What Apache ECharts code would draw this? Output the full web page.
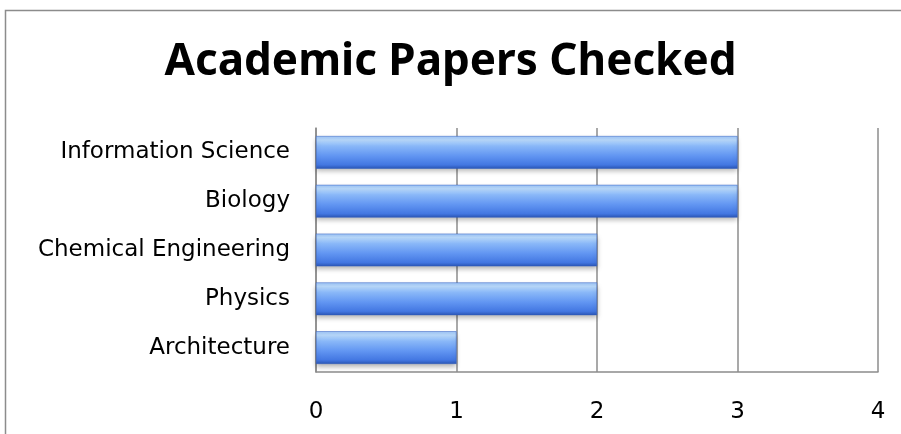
<!DOCTYPE html>
<html><head><meta charset="utf-8">
<script src="https://cdn.jsdelivr.net/npm/echarts@6/dist/echarts.min.js"></script>
<style>html,body{margin:0;padding:0;background:#fff}#c{width:901px;height:434px}</style>
</head><body><div id="c"></div>
<script>
const categories = ["Architecture", "Physics", "Chemical Engineering", "Biology", "Information Science"];
const values = [1, 2, 2, 3, 3];
const xTicks = [0, 1, 2, 3, 4];

const chart = echarts.init(document.getElementById('c'));
const barColor = new echarts.graphic.LinearGradient(0, 0, 0, 1, [
  {offset: 0, color: '#9cc4f7'},
  {offset: 0.12, color: '#b9dafc'},
  {offset: 0.3, color: '#8ab8f8'},
  {offset: 0.6, color: '#6296f2'},
  {offset: 0.88, color: '#4377e2'},
  {offset: 1, color: '#2b56b5'}
]);
chart.setOption({
  animation: false,
  graphic: [{type: 'rect', shape: {x: 5.5, y: 10.5, width: 1000, height: 1000}, style: {fill: 'none', stroke: '#8c8c8c', lineWidth: 1.5}, z: -1}],
  title: {text: 'Academic Papers Checked', left: 'center', top: 35,
    textStyle: {fontFamily: 'Noto Sans', fontWeight: 'bold', fontSize: 44, color: '#000'}},
  grid: {left: 316, right: 23, top: 128, bottom: 62, containLabel: false},
  xAxis: {type: 'value', min: 0, max: 4, interval: 1,
    axisLine: {show: true, lineStyle: {color: '#8c8c8c', width: 1.5}},
    axisTick: {show: false},
    splitLine: {show: true, lineStyle: {color: '#8c8c8c', width: 1.5}},
    axisLabel: {margin: 29, fontFamily: 'DejaVu Sans', fontSize: 23, color: '#000',
      formatter: v => xTicks.includes(v) ? String(v) : ''}},
  yAxis: {type: 'category', data: categories,
    axisLine: {show: true, lineStyle: {color: '#8c8c8c', width: 1.5}},
    axisTick: {show: false},
    axisLabel: {margin: 26, fontFamily: 'DejaVu Sans', fontSize: 23, color: '#000'}},
  series: [{type: 'bar', data: values, barWidth: '67%',
    itemStyle: {color: barColor, borderColor: '#2f5cc0', borderWidth: 0.5,
      shadowColor: 'rgba(0,0,0,0.3)', shadowBlur: 5, shadowOffsetY: 3}}]
});
</script></body></html>
